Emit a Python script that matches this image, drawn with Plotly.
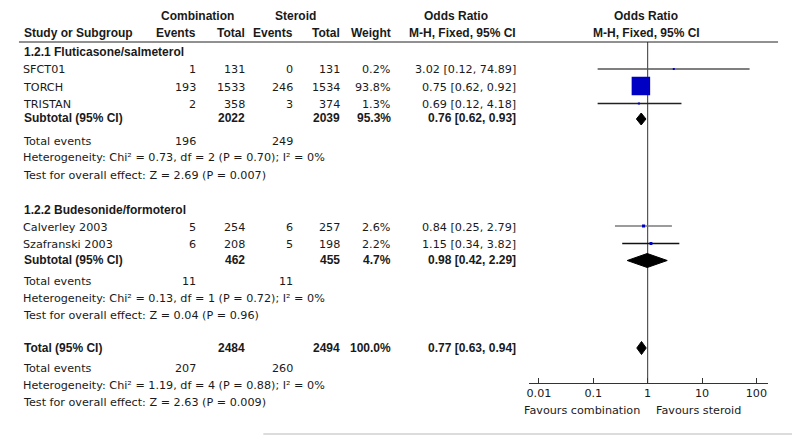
import plotly.graph_objects as go
import math

# ---------------- data ----------------
studies = ["SFCT01", "TORCH", "TRISTAN", "Calverley 2003", "Szafranski 2003"]
comb_events = [1, 193, 2, 5, 6]
comb_total = [131, 1533, 358, 254, 208]
ster_events = [0, 246, 3, 6, 5]
ster_total = [131, 1534, 374, 257, 198]
weight = [0.2, 93.8, 1.3, 2.6, 2.2]
or_est = [3.02, 0.75, 0.69, 0.84, 1.15]
or_lo = [0.12, 0.62, 0.12, 0.25, 0.34]
or_hi = [74.89, 0.92, 4.18, 2.79, 3.82]

group_names = ["1.2.1 Fluticasone/salmeterol", "1.2.2 Budesonide/formoterol"]
sub_comb_total = [2022, 462]
sub_ster_total = [2039, 455]
sub_comb_events = [196, 11]
sub_ster_events = [249, 11]
sub_weight = [95.3, 4.7]
sub_est = [0.76, 0.98]
sub_lo = [0.62, 0.42]
sub_hi = [0.93, 2.29]
sub_het = ["Heterogeneity: Chi² = 0.73, df = 2 (P = 0.70); I² = 0%",
           "Heterogeneity: Chi² = 0.13, df = 1 (P = 0.72); I² = 0%"]
sub_test = ["Test for overall effect: Z = 2.69 (P = 0.007)",
            "Test for overall effect: Z = 0.04 (P = 0.96)"]

tot_comb_total = 2484
tot_ster_total = 2494
tot_comb_events = 207
tot_ster_events = 260
tot_weight = 100.0
tot_est = 0.77
tot_lo = 0.63
tot_hi = 0.94
tot_het = "Heterogeneity: Chi² = 1.19, df = 4 (P = 0.88); I² = 0%"
tot_test = "Test for overall effect: Z = 2.63 (P = 0.009)"

tick_vals = [0.01, 0.1, 1, 10, 100]
tick_text = ["0.01", "0.1", "1", "10", "100"]
favours_left = "Favours combination"
favours_right = "Favours steroid"

# ---------------- layout (page pixels) ----------------
OX, OY = 8, 8            # default page body margin
W, H = 792, 427
REG = "DejaVu Sans, Verdana, sans-serif"
BLD = "Liberation Sans, Arial, sans-serif"
FS_R = 11.2
FS_B = 12
TXT = "#1a1a1a"

study_rows = [69, 86, 103.5, 226, 243.5]
sub_rows = [119, 260.5]
sub_ev_rows = [141, 281]
sub_het_rows = [158, 298]
sub_test_rows = [175, 315]
group_rows = [52, 210]
tot_row = 348
tot_ev_row = 368
tot_het_row = 385
tot_test_row = 402
TXT_OFF = 1

X_NAME = 19
X_CE, X_CT, X_SE, X_ST, X_W = 196.5, 245.5, 294, 340.5, 391.5
X_OR = 517
AX_L, AX_R = 528, 768
AX_BOTTOM = 383
PX_ONE = 647.3
PX_DEC = 54.5


def px(x):
    return (x - OX) / W


def py(y):
    return 1 - (y - OY) / H


ann = []


def text(x, y, s, anchor="left", bold=False, color=TXT):
    font = dict(family=BLD, size=FS_B, color=color) if bold else dict(family=REG, size=FS_R, color=color)
    ann.append(dict(x=px(x), y=py(y), xref="paper", yref="paper",
                    text=("<b>%s</b>" % s) if bold else s,
                    showarrow=False, xanchor=anchor, yanchor="middle", font=font))


# headers
text(196, 16, "Combination", "center", True)
text(294.5, 16, "Steroid", "center", True)
text(455, 16, "Odds Ratio", "center", True)
text(646, 16, "Odds Ratio", "center", True)
text(X_NAME + 1, 33, "Study or Subgroup", "left", True)
text(X_CE, 33, "Events", "right", True)
text(X_CT, 33, "Total", "right", True)
text(X_SE, 33, "Events", "right", True)
text(X_ST, 33, "Total", "right", True)
text(X_W, 33, "Weight", "right", True)
text(X_OR, 33, "M-H, Fixed, 95% CI", "right", True)
text(646, 33, "M-H, Fixed, 95% CI", "center", True)


def fmt_ci(e, lo, hi):
    return "%.2f [%.2f, %.2f]" % (e, lo, hi)


for i, name in enumerate(studies):
    y = study_rows[i] + TXT_OFF
    text(X_NAME, y, name)
    text(X_CE, y, str(comb_events[i]), "right")
    text(X_CT, y, str(comb_total[i]), "right")
    text(X_SE, y, str(ster_events[i]), "right")
    text(X_ST, y, str(ster_total[i]), "right")
    text(X_W, y, "%.1f%%" % weight[i], "right")
    text(X_OR, y, fmt_ci(or_est[i], or_lo[i], or_hi[i]), "right")

for g in range(2):
    text(X_NAME + 1, group_rows[g], group_names[g], "left", True)
    y = sub_rows[g] - 1
    text(X_NAME + 1, y, "Subtotal (95% CI)", "left", True)
    text(X_CT, y, str(sub_comb_total[g]), "right", True)
    text(X_ST, y, str(sub_ster_total[g]), "right", True)
    text(X_W, y, "%.1f%%" % sub_weight[g], "right", True)
    text(X_OR, y, fmt_ci(sub_est[g], sub_lo[g], sub_hi[g]), "right", True)
    text(X_NAME, sub_ev_rows[g], "Total events")
    text(X_CE, sub_ev_rows[g], str(sub_comb_events[g]), "right")
    text(X_SE, sub_ev_rows[g], str(sub_ster_events[g]), "right")
    text(X_NAME, sub_het_rows[g], sub_het[g])
    text(X_NAME, sub_test_rows[g], sub_test[g])

text(X_NAME + 1, tot_row, "Total (95% CI)", "left", True)
text(X_CT, tot_row, str(tot_comb_total), "right", True)
text(X_ST, tot_row, str(tot_ster_total), "right", True)
text(X_W, tot_row, "%.1f%%" % tot_weight, "right", True)
text(X_OR, tot_row, fmt_ci(tot_est, tot_lo, tot_hi), "right", True)
text(X_NAME, tot_ev_row, "Total events")
text(X_CE, tot_ev_row, str(tot_comb_events), "right")
text(X_SE, tot_ev_row, str(tot_ster_events), "right")
text(X_NAME, tot_het_row, tot_het)
text(X_NAME, tot_test_row, tot_test)

text(642, 410, favours_left, "right")
text(654, 410, favours_right, "left")

fig = go.Figure()

# line of no effect
fig.add_trace(go.Scatter(x=[1, 1], y=[42, AX_BOTTOM], mode="lines",
                         line=dict(color="#333333", width=1), hoverinfo="skip"))

# CI whiskers
ci_colors = ["#555555", "#222222", "#222222", "#7a7a7a", "#111111"]
for i in range(len(studies)):
    fig.add_trace(go.Scatter(x=[or_lo[i], or_hi[i]], y=[study_rows[i]] * 2, mode="lines",
                             line=dict(color=ci_colors[i], width=1.3), hoverinfo="skip"))

# weight squares (area proportional to weight)
sizes = [max(2.0, 18.5 * math.sqrt(w / max(weight))) for w in weight]
fig.add_trace(go.Scatter(x=or_est, y=study_rows, mode="markers", opacity=1,
                         marker=dict(symbol="square", size=sizes, color="#0000c4", opacity=1,
                                     line=dict(width=0)), hoverinfo="skip"))


def diamond(e, lo, hi, y, h):
    fig.add_trace(go.Scatter(x=[lo, e, hi, e, lo], y=[y, y - h, y, y + h, y], mode="lines",
                             fill="toself", fillcolor="#000000",
                             line=dict(color="#000000", width=1), hoverinfo="skip"))


diamond(sub_est[0], sub_lo[0], sub_hi[0], sub_rows[0], 6)
diamond(sub_est[1], sub_lo[1], sub_hi[1], sub_rows[1], 7)
diamond(tot_est, tot_lo, tot_hi, tot_row, 6.5)

x_lo = (AX_L - PX_ONE) / PX_DEC
x_hi = (AX_R - PX_ONE) / PX_DEC

fig.update_layout(
    width=W, height=H, margin=dict(l=0, r=0, t=0, b=0),
    paper_bgcolor="white", plot_bgcolor="white", showlegend=False,
    font=dict(family=REG, size=FS_R, color=TXT),
    xaxis=dict(type="log", domain=[px(AX_L), px(AX_R)], range=[x_lo, x_hi],
               tickvals=tick_vals, ticktext=tick_text, ticks="inside", ticklen=5,
               tickcolor="#333333", showline=True, linecolor="#333333", linewidth=1,
               showgrid=False, zeroline=False, tickfont=dict(family=REG, size=FS_R, color=TXT),
               fixedrange=True),
    yaxis=dict(domain=[py(AX_BOTTOM), 1], range=[AX_BOTTOM, OY], visible=False,
               showgrid=False, zeroline=False, fixedrange=True),
    annotations=ann,
    shapes=[
        dict(type="line", xref="paper", yref="paper", x0=px(17), x1=px(778), y0=py(42), y1=py(42),
             line=dict(color="#222222", width=1)),
        dict(type="line", xref="paper", yref="paper", x0=px(262), x1=1, y0=py(434), y1=py(434),
             line=dict(color="#dcdcdc", width=2)),
    ],
)

fig.write_html("out.html")
